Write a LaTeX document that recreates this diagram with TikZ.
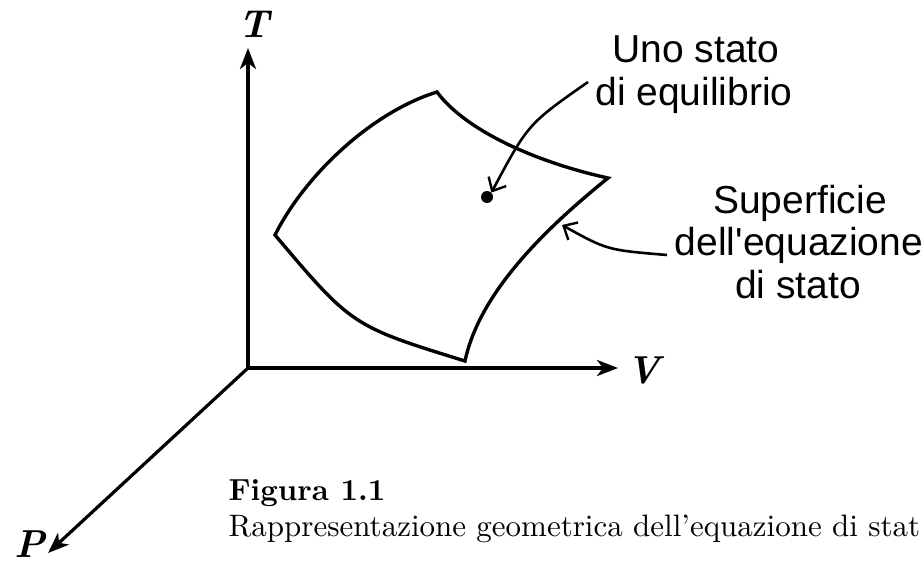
\documentclass[tikz,border=0pt]{standalone}
\usepackage{fontspec}
\newfontfamily\labfont{Liberation Sans}
\usetikzlibrary{arrows.meta}
\tikzset{
  axis/.style={line width=3.2pt, -{Stealth[length=21pt,width=16pt,inset=6pt]}},
  surf/.style={line width=3.4pt, line join=miter},
  pointer/.style={line width=2.6pt, -{Straight Barb[length=11pt,width=20pt,line width=2.4pt]}},
  lab/.style={inner sep=0pt, anchor=base, font=\labfont\fontsize{39}{43}\selectfont},
  axlab/.style={inner sep=0pt, scale=3.9, font=\normalsize\bfseries\itshape},
  captext/.style={inner sep=0pt, anchor=base west, scale=3.1, font=\normalsize}
}
\begin{document}
\begin{tikzpicture}[x=1pt,y=-1pt]
\useasboundingbox (0,0) rectangle (922,565);
% axes
\coordinate (O) at (248,368);
\coordinate (Ttip) at (248,48);
\coordinate (Vtip) at (618,368);
\coordinate (Ptip) at (48,553);
\draw[axis] (O) -- (Ttip);
\draw[axis] (O) -- (Vtip);
\draw[axis] (O) -- (Ptip);
\node[axlab] (T) at (254,24) {T};
\node[axlab] (V) at (643,370) {V};
\node[axlab, anchor=base] (P) at (30,557) {P};
% surface
\coordinate (A) at (437,92);
\coordinate (B) at (608,178);
\coordinate (C) at (465,361);
\coordinate (D) at (275,235);
\draw[surf] (D) .. controls (305,175) and (372,112) .. (A)
  .. controls (465,130) and (535,162) .. (B)
  .. controls (550,225) and (480,290) .. (C)
  .. controls (352,326) .. cycle;
% equilibrium point
\node[circle, fill=black, inner sep=0pt, minimum size=12pt] (dot) at (487,197) {};
% labels
\node[lab] (l1) at (696,62) {Uno stato};
\node[lab] (l2) at (694,105) {di equilibrio};
\node[lab] (s1) at (800,213) {Superficie};
\node[lab] (s2) at (799,255) {dell'equazione};
\node[lab] (s3) at (798,298) {di stato};
\coordinate (p1start) at (588,82);
\coordinate (p2start) at (667,255);
\coordinate (edge) at (562,225);
\draw[pointer] (p1start) .. controls (528,124) .. (dot.north east);
\draw[pointer] (p2start) .. controls (607,250) .. (edge);
% caption
\node[captext, scale=0.984, font=\normalsize\bfseries] (fig) at (228,500) {Figura 1.1};
\node[captext] (capt) at (228,536) {Rappresentazione geometrica dell’equazione di stat};
\end{tikzpicture}
\end{document}
